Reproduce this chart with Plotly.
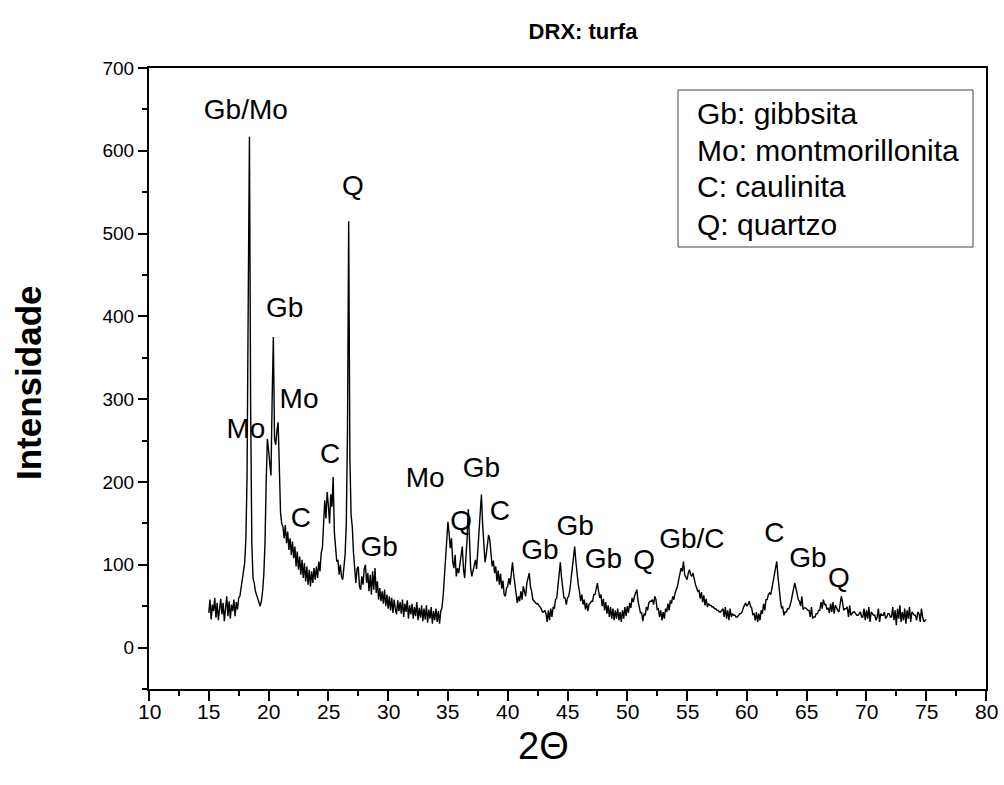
import numpy as np
import plotly.graph_objects as go

# XRD scan: 2θ from 15.0 to 75.0 in steps of 0.1°
theta_start = 15.0
theta_step = 0.1
intensity = [
    42, 58, 34, 52, 44, 60, 36, 54, 33, 50,          # 15
    59, 40, 54, 32, 50, 62, 38, 56, 35, 52,          # 16
    44, 58, 38, 55, 46, 60, 62, 72, 76, 90,          # 17
    102, 130, 205, 420, 617, 290, 125, 84, 78, 68,   # 18
    64, 58, 54, 50, 56, 68, 88, 125, 200, 252,       # 19
    238, 222, 208, 300, 375, 252, 245, 262, 272, 218,  # 20
    163, 150, 146, 132, 148, 126, 140, 118, 132, 112,  # 21
    128, 108, 122, 98, 116, 94, 110, 88, 106, 84,    # 22
    102, 80, 98, 76, 94, 74, 92, 78, 96, 82,         # 23
    98, 84, 104, 92, 114, 120, 142, 178, 156, 188,   # 24
    172, 150, 185, 170, 206, 140, 122, 104, 106, 88,  # 25
    100, 86, 82, 98, 112, 150, 260, 515, 230, 160,   # 26
    146, 115, 90, 78, 95, 98, 74, 70, 86, 76,        # 27
    95, 100, 78, 90, 68, 88, 64, 92, 70, 96,         # 28
    66, 80, 58, 72, 56, 68, 53, 70, 50, 64,          # 29
    47, 62, 45, 60, 42, 58, 47, 40, 57, 44,          # 30
    55, 41, 58, 37, 53, 43, 57, 35, 51, 40,          # 31
    53, 35, 49, 38, 55, 33, 48, 36, 51, 32,          # 32
    47, 34, 51, 30, 46, 35, 49, 29, 44, 33,          # 33
    47, 31, 44, 29, 44, 48, 62, 85, 110, 130,        # 34
    152, 138, 120, 132, 104, 96, 112, 86, 96, 90,    # 35
    100, 112, 122, 95, 84, 108, 130, 167, 120, 96,   # 36
    86, 92, 100, 106, 95, 118, 140, 160, 185, 150,   # 37
    118, 103, 112, 124, 136, 130, 110, 98, 105, 90,  # 38
    98, 80, 93, 76, 89, 71, 81, 64, 62, 72,          # 39
    74, 84, 76, 95, 103, 88, 76, 64, 54, 62,         # 40
    56, 68, 58, 74, 68, 62, 78, 84, 90, 74,          # 41
    68, 58, 56, 55, 53, 53, 51, 49, 47, 43,          # 42
    43, 45, 41, 31, 45, 33, 47, 37, 49, 47,          # 43
    58, 60, 78, 95, 103, 85, 68, 60, 60, 52,         # 44
    60, 62, 70, 85, 95, 110, 122, 104, 88, 76,       # 45
    68, 56, 64, 52, 58, 46, 54, 44, 52, 54,          # 46
    56, 56, 64, 64, 72, 78, 68, 60, 64, 50,          # 47
    59, 45, 55, 41, 51, 37, 49, 35, 47, 33,          # 48
    45, 35, 47, 33, 43, 31, 45, 35, 49, 38,          # 49
    50, 42, 54, 48, 60, 55, 62, 66, 70, 56,          # 50
    50, 42, 42, 32, 41, 39, 49, 45, 54, 56,          # 51
    56, 58, 52, 62, 58, 46, 47, 37, 45, 33,          # 52
    43, 35, 47, 43, 53, 45, 57, 53, 62, 58,          # 53
    66, 70, 74, 82, 90, 96, 92, 104, 88, 84,         # 54
    82, 90, 94, 88, 86, 90, 80, 76, 72, 68,          # 55
    69, 59, 67, 55, 63, 51, 59, 49, 53, 51,          # 56
    51, 49, 49, 47, 47, 45, 45, 43, 43, 45,          # 57
    47, 37, 49, 35, 45, 33, 47, 37, 41, 39,          # 58
    39, 37, 37, 39, 41, 41, 43, 48, 52, 54,          # 59
    50, 52, 56, 50, 48, 40, 41, 33, 43, 31,          # 60
    41, 33, 45, 41, 53, 45, 58, 58, 64, 66,          # 61
    64, 72, 80, 88, 96, 104, 86, 70, 58, 48,         # 62
    49, 39, 43, 43, 47, 47, 50, 56, 62, 70,          # 63
    78, 72, 64, 58, 56, 50, 62, 46, 48, 48,          # 64
    47, 45, 45, 37, 49, 35, 37, 37, 41, 41,          # 65
    45, 45, 55, 47, 58, 52, 52, 46, 48, 42,          # 66
    53, 43, 55, 41, 51, 47, 45, 43, 56, 62,          # 67
    55, 45, 47, 47, 49, 37, 51, 39, 41, 43,          # 68
    43, 41, 39, 39, 41, 43, 37, 37, 47, 33,          # 69
    45, 35, 49, 31, 43, 41, 39, 39, 33, 37,          # 70
    47, 31, 41, 39, 39, 43, 35, 37, 41, 41,          # 71
    37, 37, 49, 33, 45, 27, 47, 35, 51, 31,          # 72
    43, 33, 47, 29, 45, 35, 49, 31, 43, 41,          # 73
    39, 39, 33, 43, 41, 31, 47, 37, 31, 33,          # 74
    34,                                              # 75
]
two_theta = np.round(theta_start + theta_step * np.arange(len(intensity)), 2)

# x-axis tick labels
x_tick_values = [10, 15, 20, 25, 30, 35, 40, 45, 50, 55, 60, 65, 70, 75, 80]
x_tick_labels = [str(v) for v in x_tick_values]

# Phase labels on the peaks
peak_label_x = [18.1, 27.05, 21.35, 22.55, 18.1, 25.15, 22.7, 29.25, 33.1,
                36.1, 37.8, 39.35, 42.7, 45.65, 48.0, 51.4, 55.4, 62.3, 65.1, 67.7]
peak_label_y = [647, 555, 408, 298, 261, 232, 154, 119, 202,
                151, 215, 162, 115, 145, 104, 103, 129, 136, 106, 82]
peak_label_text = ["Gb/Mo", "Q", "Gb", "Mo", "Mo", "C", "C", "Gb", "Mo",
                   "Q", "Gb", "C", "Gb", "Gb", "Gb", "Q", "Gb/C", "C", "Gb", "Q"]

key_lines = ["Gb: gibbsita", "Mo: montmorillonita", "C: caulinita", "Q: quartzo"]

font_main = "Liberation Sans, Arial, sans-serif"

fig = go.Figure()
fig.add_trace(go.Scatter(
    x=peak_label_x, y=peak_label_y, text=peak_label_text, mode="text",
    textposition="middle center",
    textfont=dict(family=font_main, size=28, color="black"),
    hoverinfo="skip", showlegend=False,
))
fig.add_trace(go.Scatter(
    x=two_theta, y=intensity, mode="lines",
    line=dict(color="#000000", width=1.4),
    showlegend=False,
))

fig.update_layout(
    width=1004, height=785, autosize=False,
    margin=dict(l=149, r=18, t=68, b=96),
    paper_bgcolor="white", plot_bgcolor="white",
    title=dict(text="<b>DRX: turfa</b>", x=583 / 1004, xref="container",
               y=1 - 31 / 785, yref="container", xanchor="center", yanchor="middle",
               font=dict(family=font_main, size=22, color="black")),
)
fig.update_xaxes(
    range=[10, 80], tickvals=x_tick_values, showticklabels=False,
    showgrid=False, zeroline=False,
    showline=True, linecolor="black", linewidth=2, mirror=True,
    ticks="outside", ticklen=10, tickwidth=2, tickcolor="black",
    minor=dict(ticks="outside", ticklen=5, tickwidth=1.5, tickcolor="black", dtick=2.5, tick0=10),
)
fig.update_yaxes(
    range=[-50, 700], tick0=0, dtick=100, showgrid=False, zeroline=False,
    showline=True, linecolor="black", linewidth=2, mirror=True,
    ticks="outside", ticklen=9, tickwidth=2, tickcolor="black",
    minor=dict(ticks="outside", ticklen=5, tickwidth=1.5, tickcolor="black", dtick=50, tick0=0),
    tickfont=dict(family=font_main, size=19, color="black"),
)

annotations = [
    dict(text="<b>Intensidade</b>", x=(28 - 149) / 837, y=(689 - 383) / 621,
         xref="paper", yref="paper", textangle=-90, showarrow=False,
         xanchor="center", yanchor="middle",
         font=dict(family=font_main, size=35, color="black")),
    dict(text="2Θ", x=(543 - 149) / 837, y=(689 - 746) / 621,
         xref="paper", yref="paper", showarrow=False,
         xanchor="center", yanchor="middle",
         font=dict(family=font_main, size=38, color="black")),
]
for xv, lab in zip(x_tick_values, x_tick_labels):
    annotations.append(dict(
        text=lab, x=xv, y=(689 - 711) / 621, xref="x", yref="paper",
        showarrow=False, xanchor="center", yanchor="middle",
        font=dict(family=font_main, size=21, color="black")))
key_y_px = [113, 150, 187, 224]
for line, ypx in zip(key_lines, key_y_px):
    annotations.append(dict(
        text=line, x=(695 - 149) / 837, y=(689 - ypx) / 621,
        xref="paper", yref="paper", showarrow=False,
        xanchor="left", yanchor="middle",
        font=dict(family=font_main, size=30, color="black")))
fig.update_layout(annotations=annotations)

fig.add_shape(type="rect", xref="paper", yref="paper",
              x0=(678 - 149) / 837, x1=(973 - 149) / 837,
              y0=(689 - 247) / 621, y1=(689 - 90) / 621,
              line=dict(color="#444444", width=1), fillcolor="rgba(0,0,0,0)")

fig.write_html("out.html")
